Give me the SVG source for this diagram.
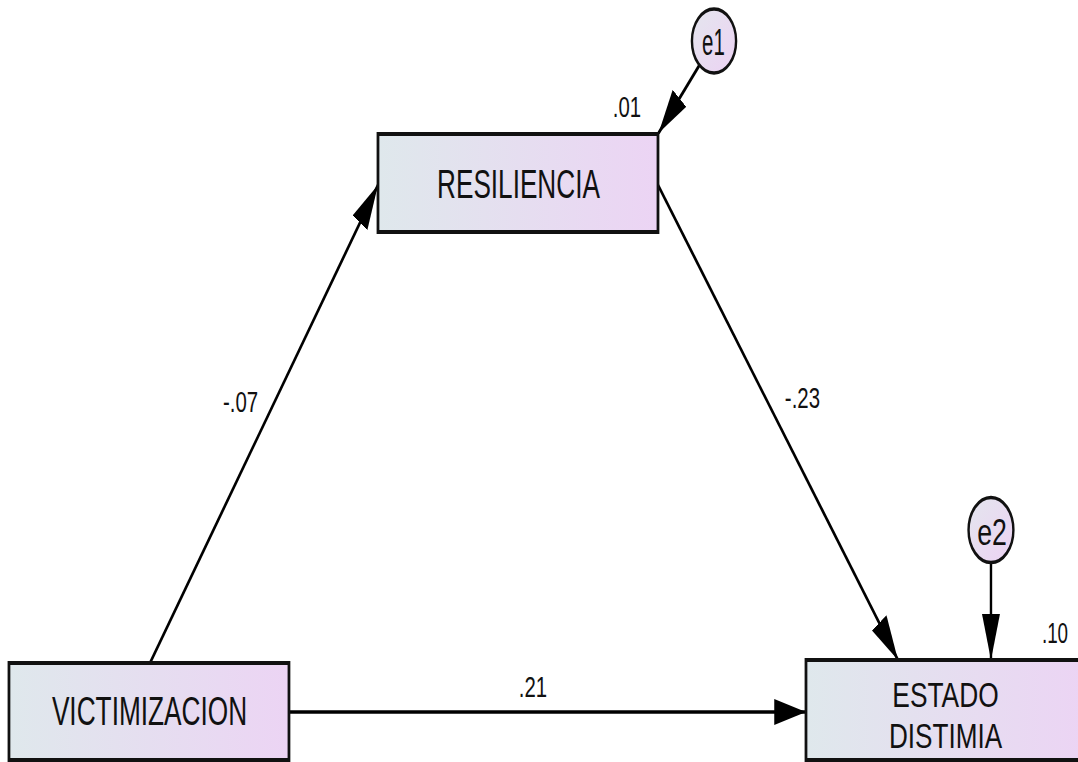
<svg xmlns="http://www.w3.org/2000/svg" width="1078" height="762" viewBox="0 0 1078 762">
<defs>
<linearGradient id="boxg" x1="0" y1="0" x2="1" y2="0">
<stop offset="0" stop-color="#dfe8ec"/>
<stop offset="1" stop-color="#ecd4f4"/>
</linearGradient>
<linearGradient id="circg" x1="0" y1="0" x2="1" y2="1">
<stop offset="0" stop-color="#e4e6ee"/>
<stop offset="1" stop-color="#ecd2f3"/>
</linearGradient>
<marker id="ah" markerUnits="userSpaceOnUse" markerWidth="46" markerHeight="26" refX="46" refY="13" orient="auto">
<path d="M0,0 L46,13 L0,26 z" fill="#000"/>
</marker>
<style>
.box{fill:url(#boxg);stroke:#111;stroke-width:4}
.circ{fill:url(#circg);stroke:#111;stroke-width:3.5}
.lbl{font-family:"Liberation Sans",Arial,sans-serif;fill:#111;text-anchor:middle}
.node{font-size:40px}
.node2{font-size:36px}
.coef{font-size:30px}
.err{font-size:37px}
.conn{stroke:#000;stroke-width:3.5;fill:none;marker-end:url(#ah)}
</style>
</defs>
<rect width="1078" height="762" fill="#fff"/>
<g transform="scale(0.69,1)">
<g id="connectors">
<line class="conn" x1="217.4" y1="663" x2="547.8" y2="185"/>
<line class="conn" x1="953.6" y1="185" x2="1301.4" y2="660"/>
<line class="conn" x1="418.8" y1="712" x2="1168.1" y2="712"/>
<line class="conn" x1="1013.8" y1="65" x2="954.5" y2="133"/>
<line class="conn" x1="1436.2" y1="562.5" x2="1436.2" y2="660"/>
<text class="lbl coef" x="348.6" y="412" textLength="51" lengthAdjust="spacingAndGlyphs">-.07</text>
<text class="lbl coef" x="1163" y="408" textLength="51" lengthAdjust="spacingAndGlyphs">-.23</text>
<text class="lbl coef" x="772.5" y="697" textLength="41" lengthAdjust="spacingAndGlyphs">.21</text>
</g>
<g id="resiliencia">
<rect class="box" x="547.8" y="134" width="405.8" height="98"/>
<text class="lbl node" x="751.4" y="198" textLength="236" lengthAdjust="spacingAndGlyphs">RESILIENCIA</text>
<text class="lbl coef" x="908.7" y="117" textLength="41" lengthAdjust="spacingAndGlyphs">.01</text>
</g>
<g id="victimizacion">
<rect class="box" x="13" y="663" width="405.8" height="97"/>
<text class="lbl node" x="216.7" y="725" textLength="283" lengthAdjust="spacingAndGlyphs">VICTIMIZACION</text>
</g>
<g id="estado-distimia">
<rect class="box" x="1168.1" y="660" width="405.8" height="100"/>
<text class="lbl node2" x="1370.3" y="707" textLength="154" lengthAdjust="spacingAndGlyphs">ESTADO</text>
<text class="lbl node2" x="1370.3" y="748" textLength="164" lengthAdjust="spacingAndGlyphs">DISTIMIA</text>
<text class="lbl coef" x="1529" y="643" textLength="38" lengthAdjust="spacingAndGlyphs">.10</text>
</g>
<g id="e1">
<circle class="circ" cx="1034.8" cy="41" r="32"/>
<text class="lbl err" x="1034" y="55" textLength="33" lengthAdjust="spacingAndGlyphs">e1</text>
</g>
<g id="e2">
<circle class="circ" cx="1436.2" cy="530" r="32.5"/>
<text class="lbl err" x="1437.7" y="545" textLength="43" lengthAdjust="spacingAndGlyphs">e2</text>
</g>
</g>
</svg>
